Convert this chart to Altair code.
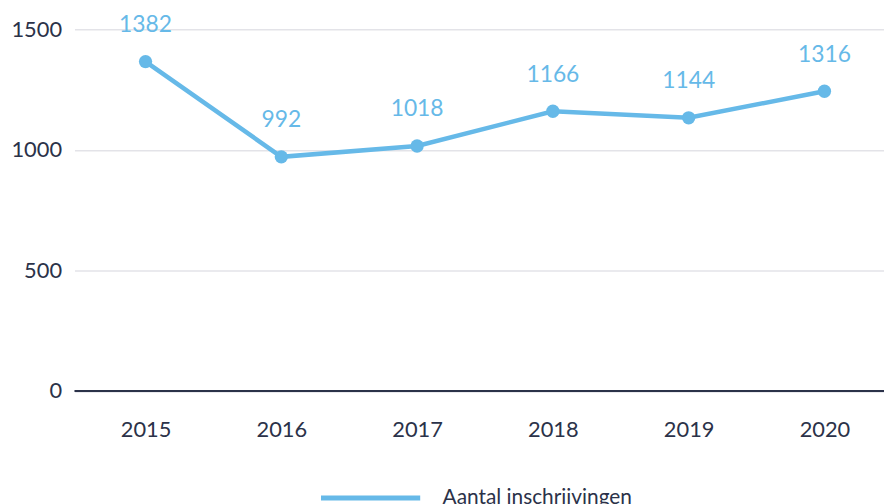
import altair as alt
import pandas as pd

years = ["2015", "2016", "2017", "2018", "2019", "2020"]
values = [1366, 971, 1016, 1160, 1133, 1243]
label_texts = ["1382", "992", "1018", "1166", "1144", "1316"]
series_name = "Aantal inschrijvingen"

df = pd.DataFrame({"jaar": years, "waarde": values, "label": label_texts, "reeks": series_name})

BLUE = "#66b9e8"
NAVY = "#2b3249"
FONT = "Lato"

x = alt.X("jaar:O", title=None, sort=years,
          scale=alt.Scale(type="point", padding=0.481, align=0.544),
          axis=alt.Axis(labelAngle=0, labelFontSize=22, labelColor=NAVY, labelFont=FONT,
                        labelPadding=29, ticks=False, domain=False, grid=False))
y = alt.Y("waarde:Q", title=None,
          scale=alt.Scale(domain=[0, 1500], nice=False),
          axis=alt.Axis(values=[0, 500, 1000, 1500], format="d", labelFontSize=22, labelColor=NAVY,
                        labelFont=FONT, labelPadding=13, ticks=False, domain=False,
                        grid=True, gridColor="#e3e3e8", gridWidth=1.5))

color = alt.Color("reeks:N", scale=alt.Scale(range=[BLUE]),
                  legend=alt.Legend(title=None, orient="none", legendX=246, legendY=420,
                                    symbolType="stroke", symbolSize=10000, symbolStrokeWidth=5,
                                    labelFontSize=21, labelColor=NAVY, labelFont=FONT,
                                    labelOffset=20, labelLimit=500))

base = alt.Chart(df)

line = base.mark_line(strokeWidth=4.5, strokeCap="round").encode(x=x, y=y, color=color)
pts = base.mark_circle(size=180, opacity=1).encode(x=x, y=y, color=alt.Color("reeks:N", scale=alt.Scale(range=[BLUE]), legend=None))
txt = base.mark_text(dy=-37, fontSize=23, font=FONT, color=BLUE, baseline="middle").encode(x=x, y=y, text="label:N")

zero = alt.Chart(pd.DataFrame({"z": [0]})).mark_rule(color=NAVY, strokeWidth=2).encode(y=alt.Y("z:Q", scale=alt.Scale(domain=[0, 1500])))

chart = alt.layer(line, zero, pts, txt).properties(
    width=816, height=364.5,
    autosize=alt.AutoSizeParams(type="none"),
    padding={"left": 67, "top": 19.5, "right": 0, "bottom": 112},
).configure_view(stroke=None)

chart.save("out.html", embed_options={"renderer": "svg", "actions": False})
